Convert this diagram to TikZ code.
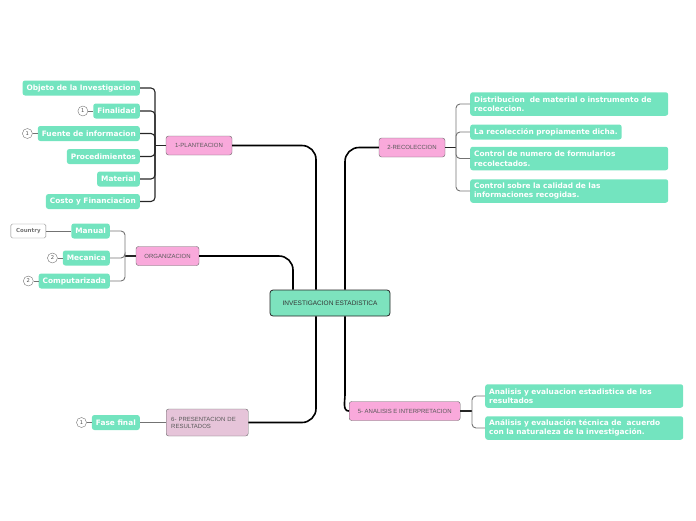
\documentclass[tikz,border=0pt]{standalone}
\usepackage{fontspec}
\usepackage{tikz}
\usetikzlibrary{positioning, shapes, arrows.meta}
\newfontfamily\leaffont{DejaVu Sans}
\newfontfamily\boxfont{Liberation Sans}
\definecolor{mint}{HTML}{73E4BF}
\definecolor{rootfill}{HTML}{7DE3BE}
\definecolor{pinkfill}{HTML}{F9A9DB}
\definecolor{mauvefill}{HTML}{E6C4D9}
\tikzset{
    rootbox/.style = {rectangle, draw=black!85, fill=rootfill, thick, rounded corners=3pt,
                        minimum width=120, minimum height=26, text=black!80,
                        font=\boxfont\fontsize{6.5}{7}\selectfont},
    topic/.style = {rectangle, draw=black!60, fill=pinkfill, rounded corners=2.5pt,
                        minimum height=19, inner xsep=5, text=black!65,
                        font=\boxfont\fontsize{6}{7}\selectfont},
    leaf/.style = {rectangle, fill=mint, rounded corners=2.5pt, minimum height=15,
                        inner xsep=4, inner ysep=2, text=white, align=left,
                        font=\leaffont\bfseries\fontsize{7.4}{9.5}\selectfont},
    wideleaf/.style = {leaf, text width=190, minimum height=23.5},
    num/.style = {circle, draw=black!55, fill=white, inner sep=0pt, minimum size=10,
                        text=black!70, font=\leaffont\fontsize{5.2}{6}\selectfont},
    tag/.style = {rectangle, draw=black!50, fill=white, rounded corners=1.5pt,
                        minimum width=35, minimum height=14, text=black!55,
                        font=\leaffont\bfseries\fontsize{5.5}{6}\selectfont},
    trunk/.style = {draw=black, line width=1.6pt, rounded corners=14},
    twig/.style = {draw=black!85, line width=1.1pt, rounded corners=4},
    thin twig/.style = {draw=black!55, line width=0.9pt, rounded corners=4}
}

\begin{document}
\begin{tikzpicture}[x=1pt, y=-1pt]
		\useasboundingbox (0,0) rectangle (696,520);
		% centre and main topics
		\node (root) [rootbox] at (330,303) {INVESTIGACION ESTADISTICA};
		\node (plan) [topic, minimum width=66] at (199,145.5) {1-PLANTEACION};
		\node (rec) [topic, minimum width=66] at (412,147.5) {2-RECOLECCION};
		\node (org) [topic, minimum width=63] at (167.5,256) {ORGANIZACION};
		\node (ana) [topic, minimum width=111, anchor=west] at (349,411) {5- ANALISIS E INTERPRETACION};
		\node (pres) [topic, fill=mauvefill, align=left, text width=72, minimum height=27,
			anchor=west] at (166,422.5) {6- PRESENTACION DE\\RESULTADOS};
		\draw [trunk] (plan.east) -| ([xshift=-14]root.north);
		\draw [trunk] (rec.west) -| ([xshift=15]root.north);
		\draw [trunk] (org.east) -| ([xshift=-37]root.north);
		\draw [trunk] (pres.east) -| ([xshift=-14]root.south);
		\draw [trunk, rounded corners=0] ([xshift=15]root.south) -- ++(0,78) to[out=-90, in=180] (ana.west);

		% 1-PLANTEACION
		\node (obj) [leaf, anchor=east] at (140,88) {Objeto de la Investigacion};
		\node (fin) [leaf, anchor=east] at (140,111) {Finalidad};
		\node (fue) [leaf, anchor=east] at (140,133.5) {Fuente de informacion};
		\node (proc) [leaf, anchor=east] at (140,156.5) {Procedimientos};
		\node (mat) [leaf, anchor=east] at (140,179) {Material};
		\node (cos) [leaf, anchor=east] at (140,201.5) {Costo y Financiacion};
		\node (n1) [num, left=5 of fin] {1};
		\node (n2) [num, left=5 of fue] {1};
		\coordinate (j1) at (155,145.5);
		\draw [twig] (plan.west) -- (j1);
		\foreach \k in {obj, fin, fue, proc, mat, cos}
			\draw [twig] (j1) |- (\k.east);
		\draw [thin twig] (n1) -- (fin);
		\draw [thin twig] (n2) -- (fue);

		% ORGANIZACION
		\node (man) [leaf, anchor=east] at (110,231) {Manual};
		\node (mec) [leaf, anchor=east] at (110,258) {Mecanica};
		\node (comp) [leaf, anchor=east] at (110,281) {Computarizada};
		\node (ctry) [tag, anchor=east] at (46,231) {Country};
		\node (n3) [num, left=5 of mec] {2};
		\node (n4) [num, left=5 of comp] {2};
		\coordinate (j2) at (125,256);
		\draw [twig] (org.west) -- (j2);
		\foreach \k in {man, mec, comp}
			\draw [thin twig] (j2) |- (\k.east);
		\draw [thin twig] (ctry) -- (man);
		\draw [thin twig] (n3) -- (mec);
		\draw [thin twig] (n4) -- (comp);

		% 2-RECOLECCION
		\node (dis) [wideleaf, anchor=west] at (470,104) {Distribucion\ \ de material o instrumento de\\recoleccion.};
		\node (prop) [leaf, anchor=west] at (470,132) {La recolección propiamente dicha.};
		\node (ctl) [wideleaf, anchor=west] at (470,158.5) {Control de numero de formularios\\recolectados.};
		\node (cal) [wideleaf, anchor=west] at (470,191) {Control sobre la calidad de las\\informaciones recogidas.};
		\coordinate (j3) at (456,147.5);
		\draw [twig] (rec.east) -- (j3);
		\foreach \k in {dis, prop, ctl, cal}
			\draw [thin twig] (j3) |- (\k.west);

		% 5- ANALISIS E INTERPRETACION
		\node (est) [wideleaf, anchor=west] at (485,396) {Analisis y evaluacion estadistica de los\\resultados};
		\node (tec) [wideleaf, anchor=west] at (485,428) {Análisis y evaluación técnica de\ \ acuerdo\\con la naturaleza de la investigación.};
		\coordinate (j4) at (472,411);
		\draw [twig] (ana.east) -- (j4);
		\foreach \k in {est, tec}
			\draw [thin twig] (j4) |- (\k.west);

		% 6- PRESENTACION DE RESULTADOS
		\node (fase) [leaf, anchor=east] at (140,422.5) {Fase final};
		\node (n5) [num, left=5 of fase] {1};
		\draw [thin twig] (pres.west) -- (fase.east);
		\draw [thin twig] (n5) -- (fase);
	\end{tikzpicture}
\end{document}
